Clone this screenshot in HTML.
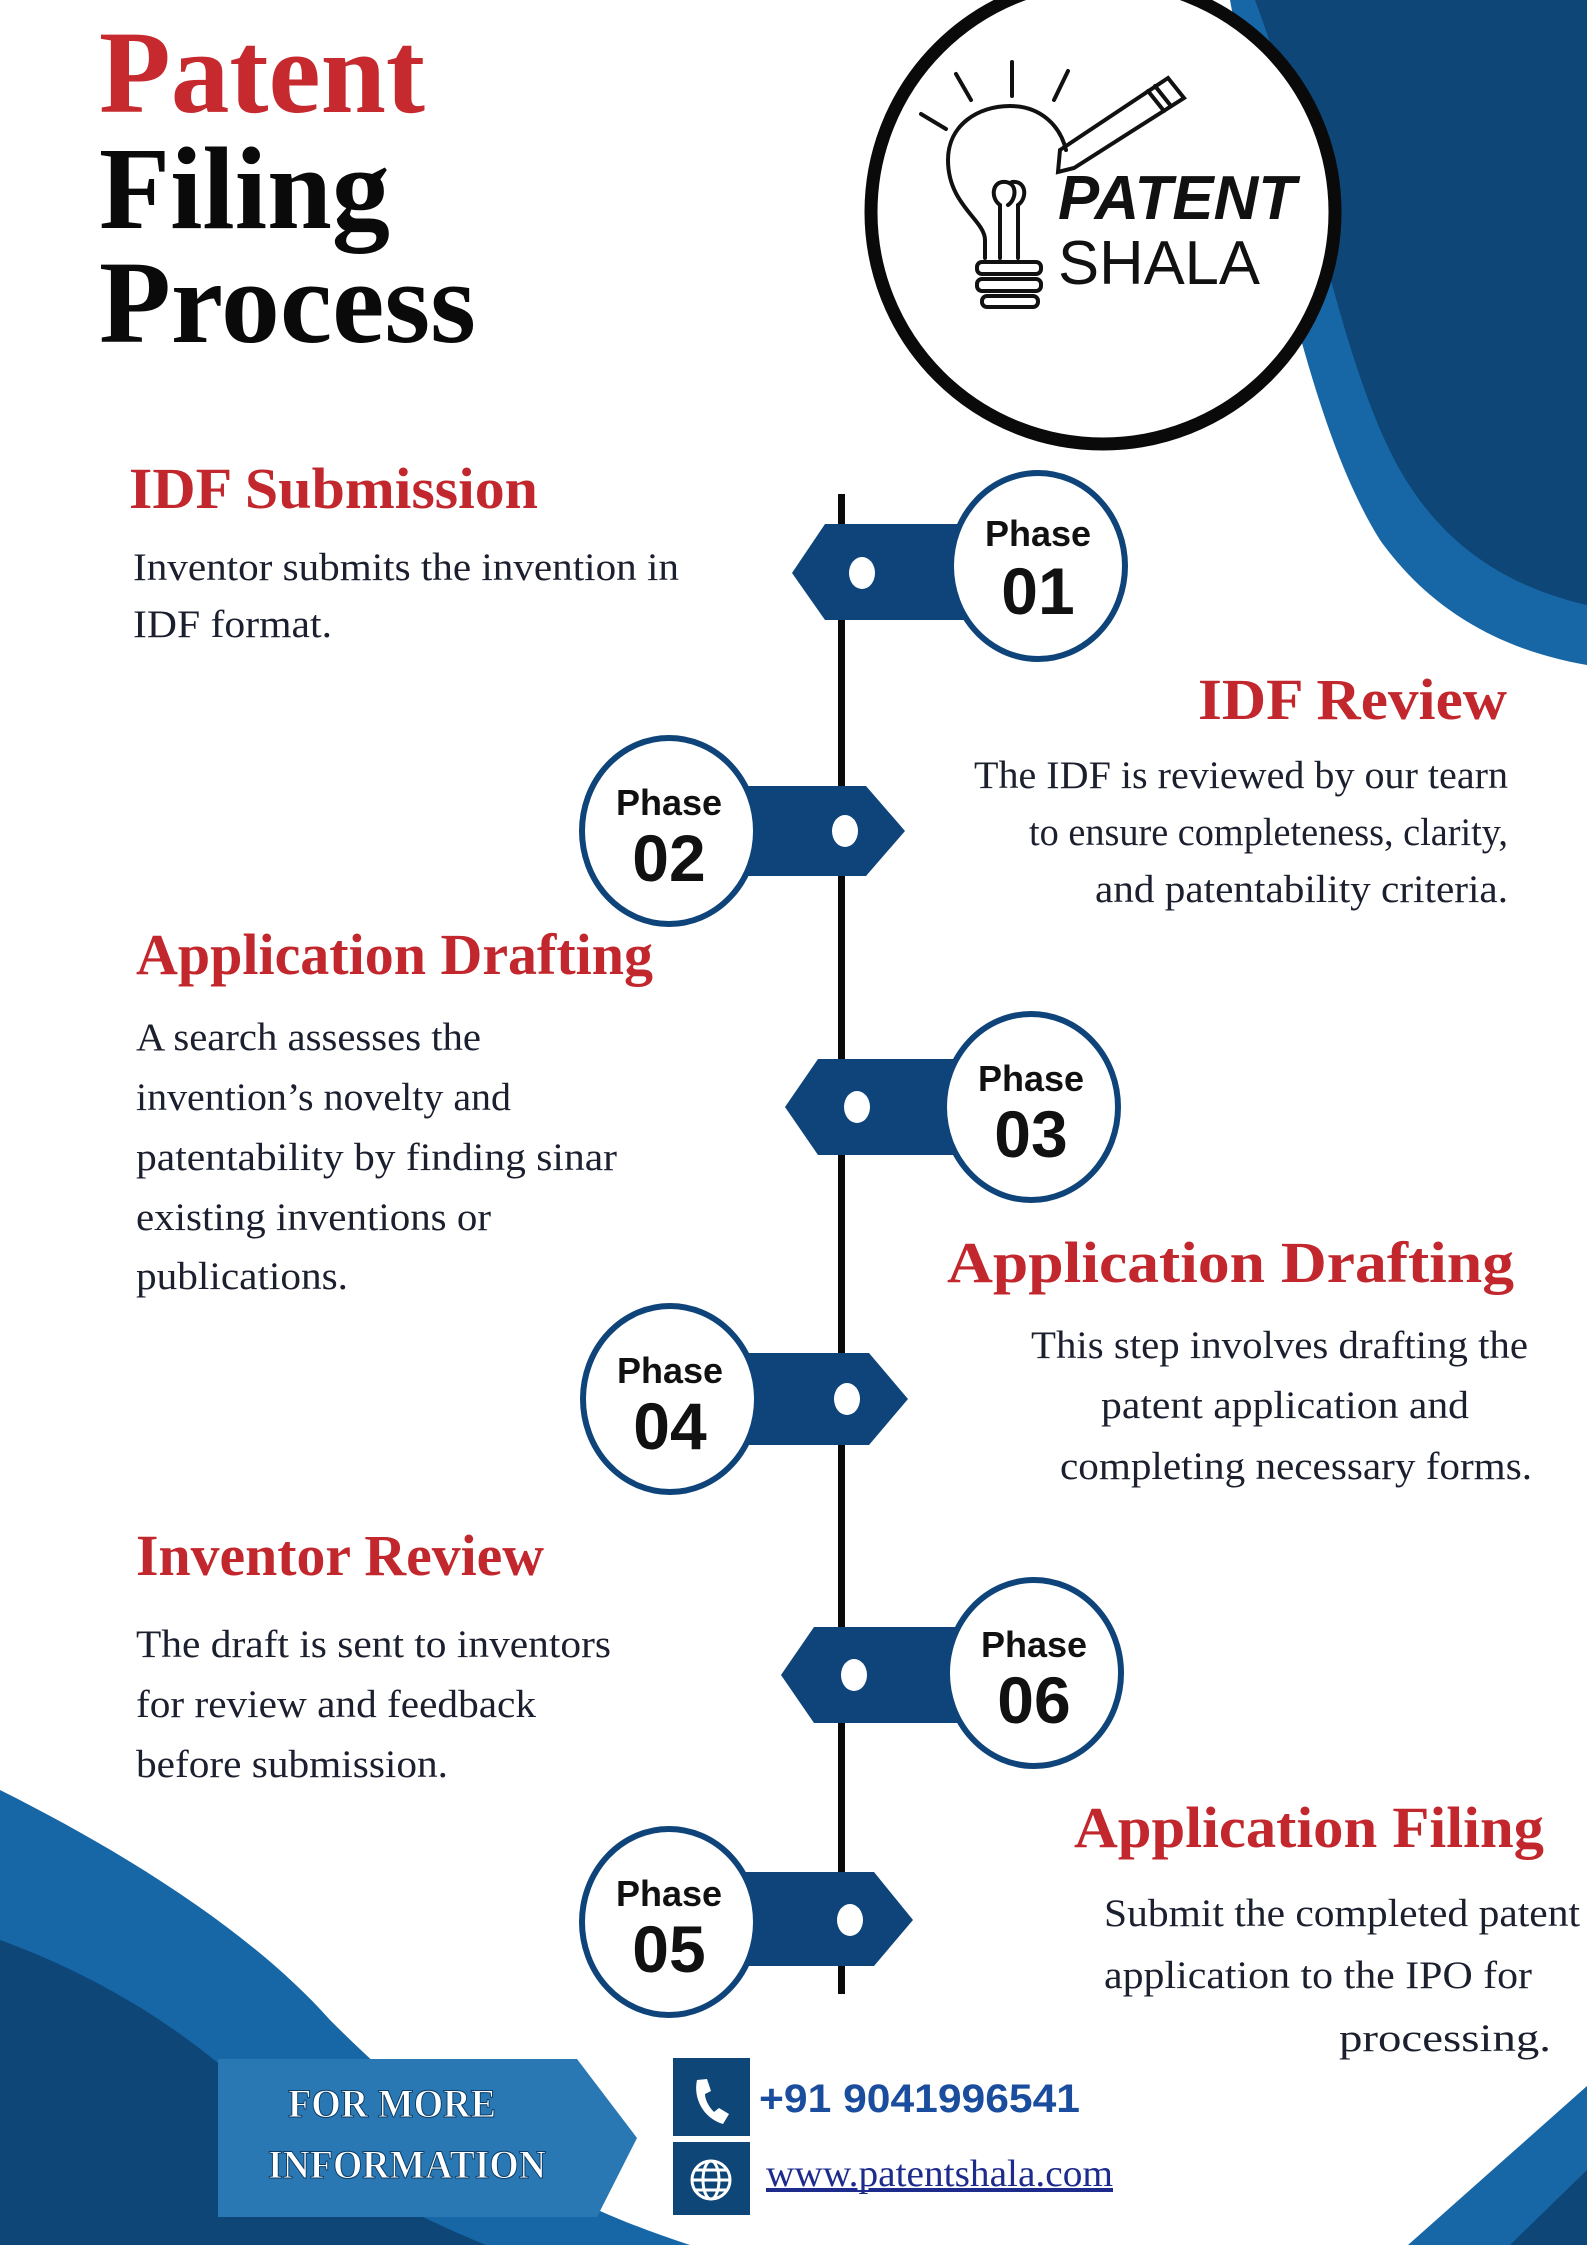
<!DOCTYPE html>
<html><head><meta charset="utf-8"><style>
html,body{margin:0;padding:0;background:#fff;}
svg{display:block;}
.serif{font-family:"Liberation Serif",serif;}
.sans{font-family:"Liberation Sans","DejaVu Sans",sans-serif;}
.h{font-family:"Liberation Serif",serif;font-weight:bold;fill:#c1272d;font-size:58px;}
.b{font-family:"Liberation Serif",serif;fill:#1b1f2e;font-size:39px;}
.ph{font-family:"Liberation Sans",sans-serif;font-weight:bold;font-size:36px;fill:#111;}
.pn{font-family:"Liberation Sans",sans-serif;font-weight:bold;font-size:66px;fill:#111;}
</style></head><body>
<svg width="1587" height="2245" viewBox="0 0 1587 2245" xmlns="http://www.w3.org/2000/svg">
<rect width="1587" height="2245" fill="#fff"/>
<!-- top right blue -->
<path d="M1230,0 L1587,0 L1587,665 C1500,650 1430,610 1380,540 C1330,460 1300,340 1270,220 Z" fill="#1766a6"/>
<path d="M1255,0 L1587,0 L1587,605 C1500,585 1440,540 1400,470 C1360,400 1330,280 1300,160 C1290,100 1270,40 1255,0 Z" fill="#0d4677"/>
<!-- bottom left blue -->
<path d="M0,1790 C120,1850 250,1930 330,2020 C420,2110 520,2190 690,2245 L0,2245 Z" fill="#1766a6"/>
<path d="M0,1940 C110,1980 200,2040 270,2110 C330,2170 400,2210 486,2245 L0,2245 Z" fill="#0d4677"/>
<!-- bottom right -->
<path d="M1587,2086 L1587,2245 L1408,2245 Z" fill="#1766a6"/>
<path d="M1587,2170 L1587,2245 L1510,2245 Z" fill="#0d4677"/>

<!-- Title -->
<text class="serif" x="99" y="112" font-size="118" font-weight="bold" fill="#c62a2e" textLength="326" lengthAdjust="spacingAndGlyphs">Patent</text>
<text class="serif" x="99" y="228" font-size="118" font-weight="bold" fill="#0a0a0a" textLength="291" lengthAdjust="spacingAndGlyphs">Filing</text>
<text class="serif" x="99" y="342" font-size="118" font-weight="bold" fill="#0a0a0a" textLength="377" lengthAdjust="spacingAndGlyphs">Process</text>

<!-- Logo -->
<circle cx="1103" cy="212" r="232" fill="#fff" stroke="#0a0a0a" stroke-width="13"/>
<g fill="none" stroke="#111" stroke-width="4" stroke-linecap="round">
<line x1="921" y1="114" x2="946" y2="129"/>
<line x1="956" y1="74" x2="971" y2="100"/>
<line x1="1012" y1="62" x2="1012" y2="96"/>
<line x1="1068" y1="71" x2="1054" y2="100"/>
<path d="M985,258 L985,240 C985,220 948,205 948,160 C948,125 978,106 1010,106 C1040,106 1060,125 1066,150"/>
<path d="M1000,258 L1000,205 C990,198 992,180 1006,182 C1018,184 1016,200 1008,205"/>
<path d="M1018,258 L1018,205 C1028,198 1026,180 1012,182"/>
<rect x="977" y="262" width="64" height="12" rx="5"/>
<rect x="977" y="279" width="64" height="12" rx="5"/>
<rect x="982" y="296" width="56" height="11" rx="5"/>
<path d="M1060,150 L1168,78 L1184,98 L1074,168 L1058,172 Z"/>
<line x1="1155" y1="86" x2="1171" y2="106"/>
<line x1="1148" y1="91" x2="1164" y2="111"/>
</g>
<text class="sans" x="1058" y="219" font-size="62" font-style="italic" font-weight="bold" fill="#111" textLength="238" lengthAdjust="spacingAndGlyphs">PATENT</text>
<text class="sans" x="1058" y="284" font-size="62" fill="#111" textLength="202" lengthAdjust="spacingAndGlyphs">SHALA</text>

<!-- Timeline -->
<rect x="838" y="494" width="7" height="1500" fill="#0a0a0a"/>

<!-- Phase tabs -->
<g fill="#0e4479">
<polygon points="792,573 825,524 1000,524 1000,620 825,620"/>
<polygon points="905,831 866,786 700,786 700,876 866,876"/>
<polygon points="785,1107 818,1059 1000,1059 1000,1155 818,1155"/>
<polygon points="908,1399 869,1353 700,1353 700,1445 869,1445"/>
<polygon points="781,1675 814,1627 1000,1627 1000,1723 814,1723"/>
<polygon points="913,1920 874,1872 700,1872 700,1966 874,1966"/>
</g>
<g fill="#fff">
<ellipse cx="862" cy="573" rx="13" ry="16"/>
<ellipse cx="845" cy="831" rx="13" ry="16"/>
<ellipse cx="857" cy="1107" rx="13" ry="16"/>
<ellipse cx="847" cy="1399" rx="13" ry="16"/>
<ellipse cx="854" cy="1675" rx="13" ry="16"/>
<ellipse cx="850" cy="1920" rx="13" ry="16"/>
</g>
<g fill="#fff" stroke="#0e4479" stroke-width="6">
<ellipse cx="1038" cy="566" rx="87" ry="93"/>
<ellipse cx="669" cy="831" rx="87" ry="93"/>
<ellipse cx="1031" cy="1107" rx="87" ry="93"/>
<ellipse cx="670" cy="1399" rx="87" ry="93"/>
<ellipse cx="1034" cy="1673" rx="87" ry="93"/>
<ellipse cx="669" cy="1922" rx="87" ry="93"/>
</g>
<g text-anchor="middle">
<text class="ph" x="1038" y="546">Phase</text><text class="pn" x="1038" y="614">01</text>
<text class="ph" x="669" y="815">Phase</text><text class="pn" x="669" y="881">02</text>
<text class="ph" x="1031" y="1091">Phase</text><text class="pn" x="1031" y="1157">03</text>
<text class="ph" x="670" y="1383">Phase</text><text class="pn" x="670" y="1449">04</text>
<text class="ph" x="1034" y="1657">Phase</text><text class="pn" x="1034" y="1723">06</text>
<text class="ph" x="669" y="1906">Phase</text><text class="pn" x="669" y="1972">05</text>
</g>

<!-- Texts -->
<text class="h" x="129" y="508" textLength="409" lengthAdjust="spacingAndGlyphs">IDF Submission</text>
<text class="b" x="133" y="580" textLength="546" lengthAdjust="spacingAndGlyphs">Inventor submits the invention in</text>
<text class="b" x="133" y="637" textLength="199" lengthAdjust="spacingAndGlyphs">IDF format.</text>

<text class="h" x="1198" y="719" textLength="309" lengthAdjust="spacingAndGlyphs">IDF Review</text>
<text class="b" x="974" y="788" textLength="534" lengthAdjust="spacingAndGlyphs">The IDF is reviewed by our tearn</text>
<text class="b" x="1029" y="845" textLength="479" lengthAdjust="spacingAndGlyphs">to ensure completeness, clarity,</text>
<text class="b" x="1095" y="902" textLength="413" lengthAdjust="spacingAndGlyphs">and patentability criteria.</text>

<text class="h" x="136" y="974" textLength="517" lengthAdjust="spacingAndGlyphs">Application Drafting</text>
<text class="b" x="136" y="1050" textLength="345" lengthAdjust="spacingAndGlyphs">A search assesses the</text>
<text class="b" x="136" y="1110" textLength="375" lengthAdjust="spacingAndGlyphs">invention’s novelty and</text>
<text class="b" x="136" y="1170" textLength="481" lengthAdjust="spacingAndGlyphs">patentability by finding sinar</text>
<text class="b" x="136" y="1230" textLength="355" lengthAdjust="spacingAndGlyphs">existing inventions or</text>
<text class="b" x="136" y="1289" textLength="212" lengthAdjust="spacingAndGlyphs">publications.</text>

<text class="h" x="947" y="1282" textLength="567" lengthAdjust="spacingAndGlyphs">Application  Drafting</text>
<text class="b" x="1031" y="1358" textLength="497" lengthAdjust="spacingAndGlyphs">This step involves drafting the</text>
<text class="b" x="1101" y="1418" textLength="368" lengthAdjust="spacingAndGlyphs">patent application and</text>
<text class="b" x="1060" y="1479" textLength="472" lengthAdjust="spacingAndGlyphs">completing necessary forms.</text>

<text class="h" x="136" y="1575" textLength="408" lengthAdjust="spacingAndGlyphs">Inventor Review</text>
<text class="b" x="136" y="1657" textLength="475" lengthAdjust="spacingAndGlyphs">The draft is sent to inventors</text>
<text class="b" x="136" y="1717" textLength="400" lengthAdjust="spacingAndGlyphs">for review and feedback</text>
<text class="b" x="136" y="1777" textLength="312" lengthAdjust="spacingAndGlyphs">before submission.</text>

<text class="h" x="1074" y="1847" textLength="470" lengthAdjust="spacingAndGlyphs">Application Filing</text>
<text class="b" x="1104" y="1926" textLength="476" lengthAdjust="spacingAndGlyphs">Submit the completed patent</text>
<text class="b" x="1104" y="1988" textLength="428" lengthAdjust="spacingAndGlyphs">application to the IPO for</text>
<text class="b" x="1339" y="2051" textLength="212" lengthAdjust="spacingAndGlyphs">processing.</text>

<!-- Bottom contact -->
<polygon points="218,2059 577,2059 637,2138 597,2217 218,2217" fill="#2a78b3"/>
<g class="serif" font-weight="bold" font-size="40" fill="#fff" stroke="#0d3d66" stroke-width="1">
<text x="288" y="2117" textLength="208" lengthAdjust="spacingAndGlyphs">FOR MORE</text>
<text x="268" y="2178" textLength="278" lengthAdjust="spacingAndGlyphs">INFORMATION</text>
</g>
<rect x="673" y="2058" width="77" height="78" fill="#0d4677"/>
<rect x="673" y="2142" width="77" height="73" fill="#0d4677"/>
<path d="M697,2080 C693,2098 703,2118 723,2124 L729,2114 L719,2108 L714,2112 C708,2106 705,2099 705,2094 L711,2091 L707,2079 Z" fill="#fff"/>
<g fill="none" stroke="#fff" stroke-width="3">
<circle cx="711" cy="2180" r="19"/>
<ellipse cx="711" cy="2180" rx="8" ry="19"/>
<line x1="692" y1="2180" x2="730" y2="2180"/>
<line x1="695" y1="2170" x2="727" y2="2170"/>
<line x1="695" y1="2190" x2="727" y2="2190"/>
</g>
<text class="sans" x="759" y="2112" font-size="40" font-weight="bold" fill="#1a4d9e" textLength="321" lengthAdjust="spacingAndGlyphs">+91 9041996541</text>
<text class="serif" x="766" y="2186" font-size="38" fill="#1d2c8c" text-decoration="underline" textLength="347" lengthAdjust="spacingAndGlyphs">www.patentshala.com</text>
<rect x="766" y="2190" width="347" height="2" fill="#1d2c8c"/>
</svg>
</body></html>
